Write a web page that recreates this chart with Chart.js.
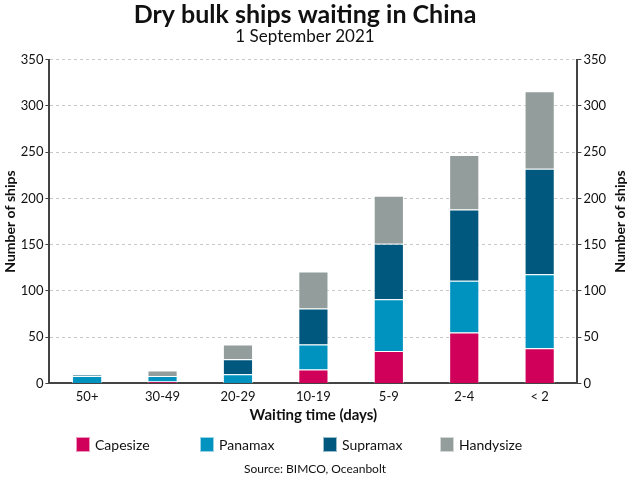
<!DOCTYPE html>
<html>
<head>
<meta charset="utf-8">
<script src="https://cdn.jsdelivr.net/npm/chart.js@4"></script>
<style>
  html, body { margin: 0; padding: 0; background: #fff; }
  #wrap { width: 630px; height: 478px; }
</style>
</head>
<body>
<div id="wrap"><canvas id="Graph"></canvas></div>
<script>
const categories = ['50+', '30-49', '20-29', '10-19', '5-9', '2-4', '< 2'];
const capesize  = [0, 2, 0, 15, 35, 55, 38];
const panamax   = [8, 6, 10, 27, 56, 56, 80];
const supramax  = [1, 0, 16, 39, 60, 77, 114];
const handysize = [0, 6, 16, 40, 52, 59, 84];

const FONT = 'Lato, "DejaVu Sans", sans-serif';
const ctx = document.getElementById('Graph');

// legend x positions (left edge of each swatch)
const legendX = [76, 200, 323, 440];

// legend, source line and right axis title (reads bottom to top like the left one)
const extras = {
    id: 'extras',
    afterDraw(chart) {
        const c = chart.ctx;
        const area = chart.chartArea;
        c.save();
        c.textBaseline = 'middle';
        c.font = '14px ' + FONT;
        chart.data.datasets.forEach((ds, i) => {
            c.fillStyle = ds.backgroundColor;
            c.fillRect(legendX[i], 437, 14, 15);
            c.strokeStyle = 'rgba(255,255,255,0.6)';
            c.strokeRect(legendX[i] + 0.5, 437.5, 13, 14);
            c.fillStyle = '#111';
            c.textAlign = 'left';
            c.fillText(ds.label, legendX[i] + 19, 445);
        });
        c.font = '12px ' + FONT;
        c.textAlign = 'center';
        c.fillText('Source: BIMCO, Oceanbolt', chart.width / 2, 469);
        c.translate(620, (area.top + area.bottom) / 2);
        c.rotate(-Math.PI / 2);
        c.font = 'bold 14px ' + FONT;
        c.fillText('Number of ships', 0, 0);
        c.restore();
    }
};

new Chart(ctx, {
    type: 'bar',
    data: {
        labels: categories,
        datasets: [
            { label: 'Capesize',  data: capesize,  backgroundColor: '#d0005a' },
            { label: 'Panamax',   data: panamax,   backgroundColor: '#0093c0' },
            { label: 'Supramax',  data: supramax,  backgroundColor: '#00587e' },
            { label: 'Handysize', data: handysize, backgroundColor: '#929d9c' }
        ].map(d => Object.assign(d, {
            borderColor: 'rgba(255,255,255,0.6)',
            borderWidth: 1,
            barPercentage: 0.4,
            categoryPercentage: 1
        }))
    },
    options: {
        responsive: true,
        maintainAspectRatio: false,
        animation: false,
        layout: { padding: { left: 2, right: 22, bottom: 54, top: 0 } },
        plugins: {
            title: {
                display: true,
                text: 'Dry bulk ships waiting in China',
                color: '#111',
                font: { family: FONT, size: 25, weight: 'bold', lineHeight: 1.0 },
                padding: { top: 2, bottom: 0 }
            },
            subtitle: {
                display: true,
                text: '1 September 2021',
                color: '#111',
                font: { family: FONT, size: 17, lineHeight: 1.1 },
                padding: { top: 0, bottom: 14 }
            },
            legend: { display: false },
            tooltip: { enabled: false }
        },
        scales: {
            x: {
                stacked: true,
                grid: { display: false, drawTicks: false },
                border: { color: '#444', width: 2 },
                ticks: { color: '#111', font: { family: FONT, size: 13 }, padding: 6 },
                title: {
                    display: true,
                    text: 'Waiting time (days)',
                    color: '#111',
                    font: { family: FONT, size: 15, weight: 'bold' },
                    padding: { top: -5, bottom: 0 }
                }
            },
            y: {
                stacked: true,
                min: 0,
                max: 350,
                ticks: { stepSize: 50, color: '#111', font: { family: FONT, size: 13 }, padding: 2 },
                grid: { color: '#c8c8c8', tickColor: '#444', tickLength: 4, drawTicks: true },
                border: { color: '#444', width: 2, dash: [3, 3], display: true },
                title: {
                    display: true,
                    text: 'Number of ships',
                    color: '#111',
                    font: { family: FONT, size: 14, weight: 'bold' },
                    padding: 0
                }
            },
            y2: {
                position: 'right',
                min: 0,
                max: 350,
                ticks: { stepSize: 50, color: '#111', font: { family: FONT, size: 13 }, padding: 2 },
                grid: { drawOnChartArea: false, tickColor: '#444', tickLength: 4 },
                border: { color: '#444', width: 2 }
            }
        }
    },
    plugins: [extras]
});
</script>
</body>
</html>
